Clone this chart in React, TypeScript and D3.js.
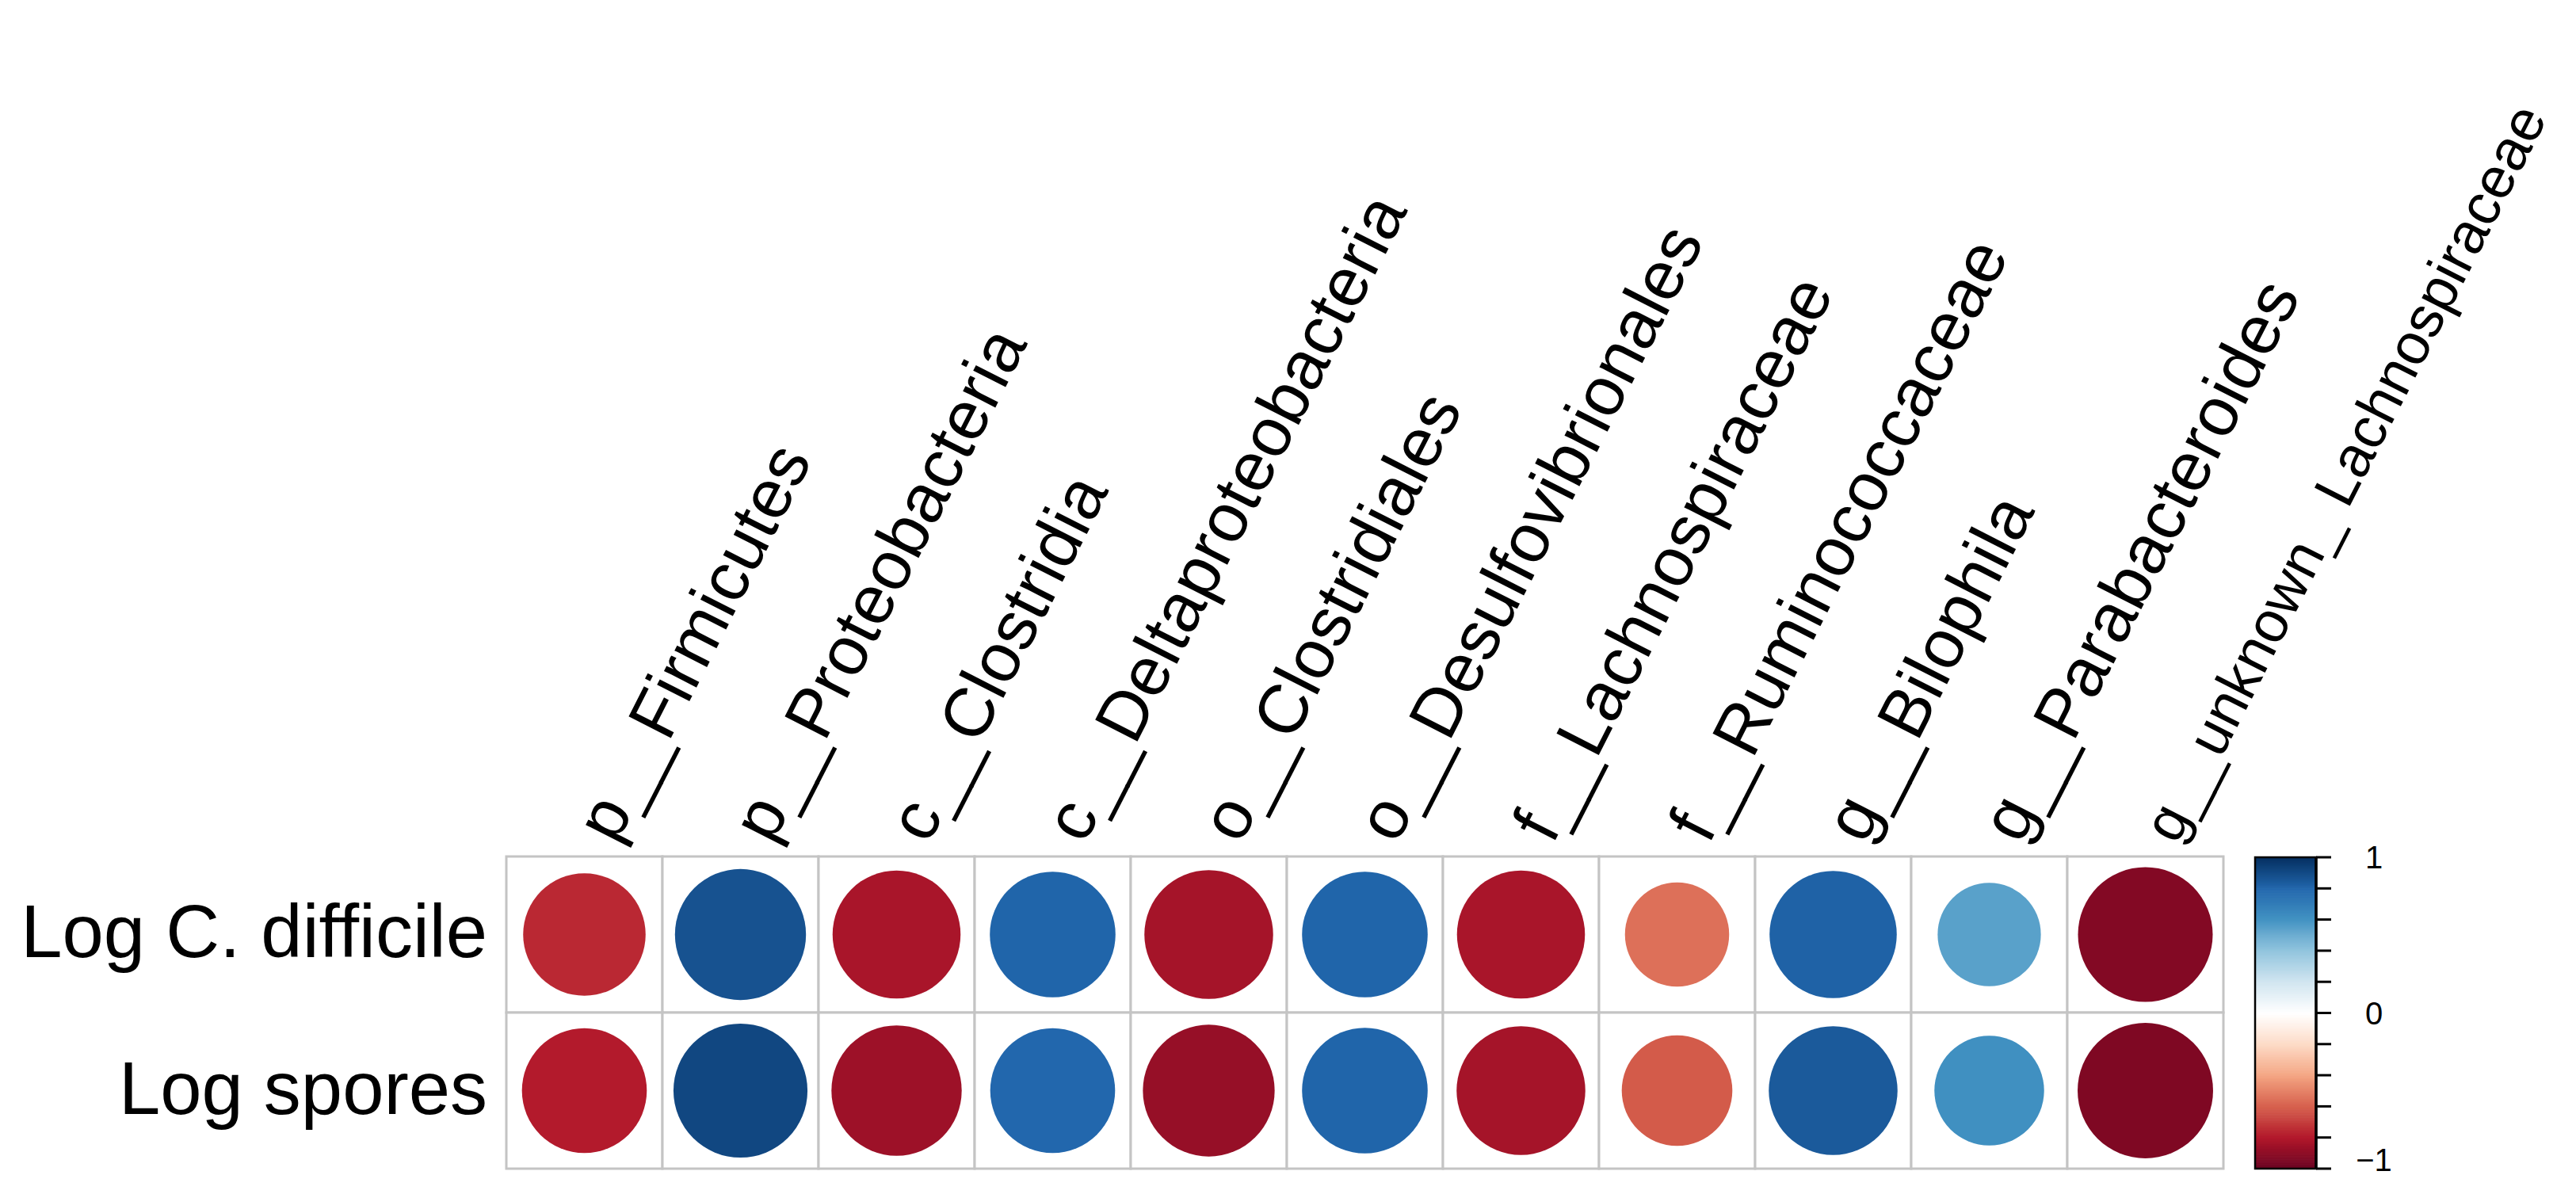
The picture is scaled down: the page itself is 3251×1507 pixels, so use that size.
import React, { useLayoutEffect, useRef, useState } from "react";
import * as d3 from "d3";

const rowLabels = ["Log C. difficile", "Log spores"];
const colLabels = [
  "p__Firmicutes",
  "p__Proteobacteria",
  "c__Clostridia",
  "c__Deltaproteobacteria",
  "o__Clostridiales",
  "o__Desulfovibrionales",
  "f__Lachnospiraceae",
  "f__Ruminococcaceae",
  "g__Bilophila",
  "g__Parabacteroides",
  "g__unknown_ Lachnospiraceae",
];
const corrCDifficile = [-0.76, 0.87, -0.83, 0.8, -0.84, 0.8, -0.83, -0.55, 0.82, 0.54, -0.92];
const corrSpores = [-0.79, 0.91, -0.86, 0.79, -0.88, 0.8, -0.84, -0.62, 0.84, 0.61, -0.93];
const paletteColors = [
  "#67001F", "#B2182B", "#D6604D", "#F4A582", "#FDDBC7", "#FFFFFF",
  "#D1E5F0", "#92C5DE", "#4393C3", "#2166AC", "#053061",
];
const legendTicks = [-1, -0.8, -0.6, -0.4, -0.2, 0, 0.2, 0.4, 0.6, 0.8, 1];
const legendLabels = [
  { v: -1, t: "\u22121" },
  { v: 0, t: "0" },
  { v: 1, t: "1" },
];

const W = 3251;
const H = 1507;
const FONT = "'Liberation Sans', Arial, Helvetica, sans-serif";
const COL_FONT = 87;
const COL_ANGLE = 63;
const EDGE_MARGIN = 14;

export default function App() {
  const matrix = [corrCDifficile, corrSpores];
  const gridLeft = 639;
  const gridTop = 1081;
  const cell = 197;
  const x = d3
    .scaleBand<string>()
    .domain(colLabels)
    .range([gridLeft, gridLeft + cell * colLabels.length]);
  const y = d3
    .scaleBand<string>()
    .domain(rowLabels)
    .range([gridTop, gridTop + cell * rowLabels.length]);
  const color = d3
    .scaleLinear<string>()
    .domain(d3.range(paletteColors.length).map((i) => -1 + (2 * i) / (paletteColors.length - 1)))
    .range(paletteColors)
    .interpolate(d3.interpolateRgb)
    .clamp(true);

  const nBins = 200;
  const binColor = (v: number) => {
    const idx = Math.min(nBins - 1, Math.floor(((v + 1) / 2) * nBins));
    return color(-1 + (2 * (idx + 0.5)) / nBins);
  };

  const legendX0 = 2846;
  const legendX1 = 2923;
  const ly = d3.scaleLinear().domain([-1, 1]).range([1475, 1082]);
  const bins = d3.range(nBins);

  const bw = x.bandwidth();
  const bh = y.bandwidth();

  const rad = (COL_ANGLE * Math.PI) / 180;
  const cosA = Math.cos(rad);
  const sinA = Math.sin(rad);
  const anchor = (c: string) => ({ ax: (x(c) as number) + bw / 2 + 40, ay: gridTop - 14 });

  // longest baseline a rotated label may have and still keep its whole box inside the picture
  const maxLen = (c: string, f: number) => {
    const { ax, ay } = anchor(c);
    const byX = (W - EDGE_MARGIN - ax - 0.212 * f * sinA) / cosA;
    const byY = (ay - EDGE_MARGIN - 0.905 * f * cosA) / sinA;
    return Math.min(byX, byY);
  };

  const textRefs = useRef<(SVGTextElement | null)[]>([]);
  const [fontSizes, setFontSizes] = useState<number[]>(colLabels.map(() => COL_FONT));
  useLayoutEffect(() => {
    const next = colLabels.map((c, i) => {
      const el = textRefs.current[i];
      if (!el) return COL_FONT;
      let f = COL_FONT;
      const perEm = el.getComputedTextLength() / COL_FONT;
      for (let k = 0; k < 6; k++) {
        const m = maxLen(c, f);
        if (perEm * f <= m) break;
        f = Math.floor((m / perEm) * 0.99);
      }
      return f;
    });
    setFontSizes(next);
  }, []);

  return (
    <svg
      width={W}
      height={H}
      style={{ position: "absolute", left: 0, top: 0, background: "#fff" }}
      fontFamily={FONT}
    >
      <rect x={0} y={0} width={W} height={H} fill="#fff" />
      {rowLabels.map((r, ri) =>
        colLabels.map((c, ci) => {
          const v = matrix[ri][ci];
          const cx = (x(c) as number) + bw / 2;
          const cy = (y(r) as number) + bh / 2;
          return (
            <g key={r + c}>
              <rect
                x={x(c)}
                y={y(r)}
                width={bw}
                height={bh}
                fill="#fff"
                stroke="#C4C4C4"
                strokeWidth={3}
              />
              <circle cx={cx} cy={cy} r={(0.9 * Math.sqrt(Math.abs(v)) * bw) / 2} fill={binColor(v)} />
            </g>
          );
        })
      )}
      {rowLabels.map((r, ri) => (
        <text
          key={r}
          x={gridLeft - 24}
          y={(y(r) as number) + bh / 2 + 28 + ri * 1}
          fontSize={94}
          textAnchor="end"
          fill="#000"
        >
          {r}
        </text>
      ))}
      {colLabels.map((c, i) => {
        const { ax, ay } = anchor(c);
        return (
          <text
            key={c}
            ref={(el) => {
              textRefs.current[i] = el;
            }}
            x={0}
            y={0}
            transform={`translate(${ax},${ay}) rotate(${-COL_ANGLE})`}
            fontSize={fontSizes[i]}
            textAnchor="start"
            fill="#000"
            style={{ whiteSpace: "pre" }}
          >
            {c}
          </text>
        );
      })}
      {bins.map((i) => {
        const v0 = -1 + (2 * i) / nBins;
        const v1 = -1 + (2 * (i + 1)) / nBins;
        return (
          <rect
            key={i}
            x={legendX0}
            y={ly(v1)}
            width={legendX1 - legendX0}
            height={ly(v0) - ly(v1) + 0.6}
            fill={color((v0 + v1) / 2)}
          />
        );
      })}
      <rect
        x={legendX0}
        y={ly(1)}
        width={legendX1 - legendX0}
        height={ly(-1) - ly(1)}
        fill="none"
        stroke="#000"
        strokeWidth={2.5}
      />
      <line x1={legendX1} x2={legendX1} y1={ly(1)} y2={ly(-1)} stroke="#000" strokeWidth={3.5} />
      {legendTicks.map((t) => (
        <line key={t} x1={legendX1} x2={legendX1 + 19} y1={ly(t)} y2={ly(t)} stroke="#000" strokeWidth={3} />
      ))}
      {legendLabels.map((l) => (
        <text
          key={l.t}
          x={2996}
          y={Math.min(ly(l.v), ly(-1) - 11)}
          fontSize={40}
          textAnchor="middle"
          dominantBaseline="central"
          fill="#000"
        >
          {l.t}
        </text>
      ))}
    </svg>
  );
}
